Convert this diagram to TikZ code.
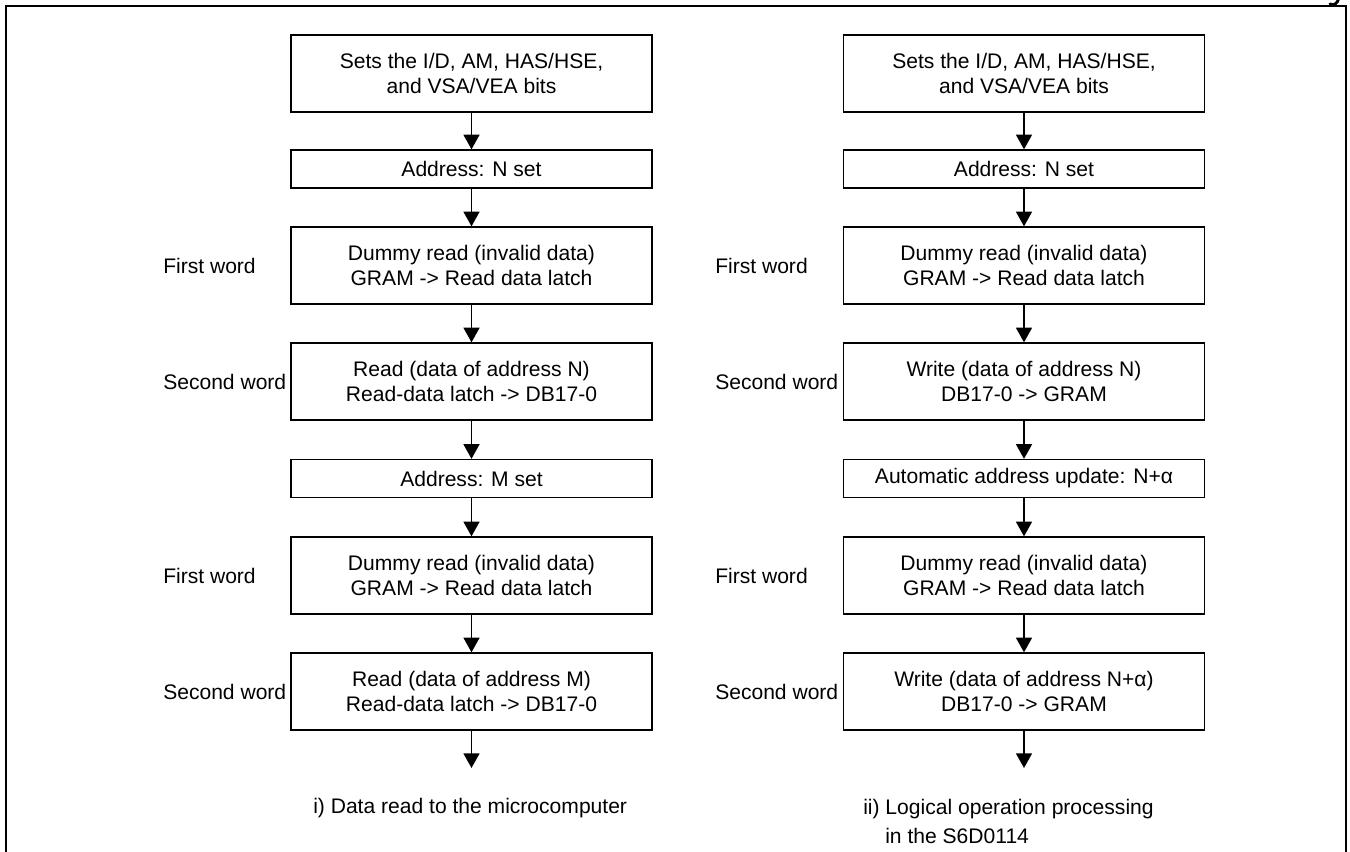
\documentclass[tikz,border=0pt]{standalone}
\usepackage{fontspec}
\setmainfont{Liberation Sans}
\usetikzlibrary{arrows.meta}
\begin{document}
\begin{tikzpicture}[x=0.75pt,y=-0.75pt,
  txt/.style={font=\fontsize{15.8}{18.75}\selectfont},
  box/.style={txt,draw,line width=1pt,minimum width=270.75pt,align=center,inner sep=0pt},
  tallbox/.style={box,minimum height=57.75pt},
  shortbox/.style={box,minimum height=28.5pt},
  lbl/.style={txt,anchor=west,inner sep=0pt},
  arr/.style={line width=1.1pt,-{Triangle[width=12pt,length=11pt]}},
  frame/.style={line width=1.6pt}]
\useasboundingbox (0,0) rectangle (1350,852);
% outer frame
\draw[frame] (6,870) -- (6,6) -- (1346,6) -- (1346,870);
% fragment of a cut-off glyph at the top right
\draw[line width=2.2pt,line cap=round] (1339,-2) .. controls (1337,4) and (1334,6) .. (1330,4);

% left column
\node[tallbox]  (l1) at (471.5,73.5)  {Sets the I/D, AM, HAS/HSE,\\and VSA/VEA bits};
\node[shortbox] (l2) at (471.5,169)   {Address: N set};
\node[tallbox]  (l3) at (471.5,265.5) {Dummy read (invalid data)\\GRAM -> Read data latch};
\node[tallbox]  (l4) at (471.5,381.5) {Read (data of address N)\\Read-data latch -> DB17-0};
\node[shortbox] (l5) at (471.5,478.5) {Address: M set};
\node[tallbox]  (l6) at (471.5,575.5) {Dummy read (invalid data)\\GRAM -> Read data latch};
\node[tallbox]  (l7) at (471.5,691.5) {Read (data of address M)\\Read-data latch -> DB17-0};
\coordinate (le) at (471.5,768);

\node[lbl] (lf1) at (163,265.5) {First word};
\node[lbl] (ls1) at (163,381.5) {Second word};
\node[lbl] (lf2) at (163,575.5) {First word};
\node[lbl] (ls2) at (163,691.5) {Second word};

\draw[arr] (l1) -- (l2);
\draw[arr] (l2) -- (l3);
\draw[arr] (l3) -- (l4);
\draw[arr] (l4) -- (l5);
\draw[arr] (l5) -- (l6);
\draw[arr] (l6) -- (l7);
\draw[arr] (l7) -- (le);

\node[lbl] (lcap) at (313,808) {i) Data read to the microcomputer};

% right column
\node[tallbox]  (r1) at (1024,73.5)  {Sets the I/D, AM, HAS/HSE,\\and VSA/VEA bits};
\node[shortbox] (r2) at (1024,169)   {Address: N set};
\node[tallbox]  (r3) at (1024,265.5) {Dummy read (invalid data)\\GRAM -> Read data latch};
\node[tallbox]  (r4) at (1024,381.5) {Write (data of address N)\\DB17-0 -> GRAM};
\node[shortbox] (r5) at (1024,478.5) {Automatic address update: N+α};
\node[tallbox]  (r6) at (1024,575.5) {Dummy read (invalid data)\\GRAM -> Read data latch};
\node[tallbox]  (r7) at (1024,691.5) {Write (data of address N+α)\\DB17-0 -> GRAM};
\coordinate (re) at (1024,768);

\node[lbl] (rf1) at (715,265.5) {First word};
\node[lbl] (rs1) at (715,381.5) {Second word};
\node[lbl] (rf2) at (715,575.5) {First word};
\node[lbl] (rs2) at (715,691.5) {Second word};

\draw[arr] (r1) -- (r2);
\draw[arr] (r2) -- (r3);
\draw[arr] (r3) -- (r4);
\draw[arr] (r4) -- (r5);
\draw[arr] (r5) -- (r6);
\draw[arr] (r6) -- (r7);
\draw[arr] (r7) -- (re);

\node[lbl] (rcap1) at (863,809) {ii) Logical operation processing};
\node[lbl] (rcap2) at (885,836) {in the S6D0114};
\end{tikzpicture}
\end{document}
